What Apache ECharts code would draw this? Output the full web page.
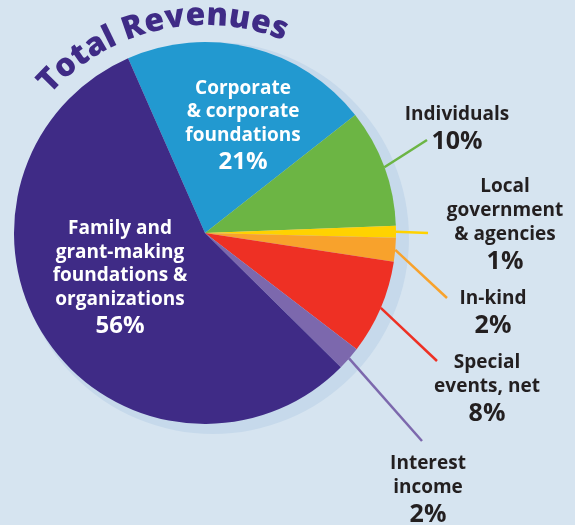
<!DOCTYPE html>
<html><head><meta charset="utf-8">
<script src="https://cdn.jsdelivr.net/npm/echarts@6/dist/echarts.min.js"></script>
<style>html,body{margin:0;padding:0;background:#d6e4f0}#c{width:575px;height:525px}</style>
</head><body><div id="c"></div>
<script>
const categories = ['Corporate\n& corporate\nfoundations','Individuals','Local\ngovernment\n& agencies','In-kind','Special\nevents, net','Interest\nincome','Family and\ngrant-making\nfoundations &\norganizations'];
const values = [21, 10, 1, 2, 8, 2, 56];
const colors = ['#2299d0','#6cb544','#ffd200','#f8a22c','#ee3024','#7c68ad','#3f2b86'];
const insideLabels = [true, false, false, false, false, false, true];
const titleText = 'Total Revenues';

// layout (label centres and leader-line ends), not data
const labelPos = [[243,127],[457,130],[505,226],[493,314],[487,390],[428,491],[120,279]];
const lineEnds = [null,[427,140],[428,233],[447,298],[437,361],[422,441],null];

const FONT = '"Open Sans", "DejaVu Sans", sans-serif';
const dark = '#231f20';
const CX = 205, CY = 233, R = 191;

// Curved title
const ctx = document.createElement('canvas').getContext('2d');
const TFS = 32;
ctx.font = '800 ' + TFS + 'px "Open Sans"';
const chars = titleText.split('');
const widths = chars.map(c => ctx.measureText(c).width);
let acc = 0; const centres = [];
widths.forEach(w => { centres.push(acc + w / 2); acc += w; });
const th0 = -45.5, th1 = 20.0, TR = 217;
const s0 = centres[0], s1 = centres[centres.length - 1];
const titleEls = chars.map((c, i) => {
  const th = (th0 + (th1 - th0) * (centres[i] - s0) / (s1 - s0)) * Math.PI / 180;
  return {
    type: 'text', silent: true, z: 10,
    x: CX + TR * Math.sin(th), y: CY - TR * Math.cos(th), rotation: -th,
    style: { text: c, fontSize: TFS, fontWeight: 800, fontFamily: FONT, fill: '#3f2b86',
      align: 'center', verticalAlign: 'middle', textAlign: 'center', textVerticalAlign: 'middle' }
  };
});

const data = categories.map((name, i) => ({
  name, value: values[i],
  itemStyle: { color: colors[i] },
  label: { position: insideLabels[i] ? 'inside' : 'outside' },
  labelLine: { show: !insideLabels[i] }
}));

const chart = echarts.init(document.getElementById('c'), null, { renderer: 'canvas' });
chart.setOption({
  backgroundColor: '#d6e4f0',
  animation: false,
  graphic: titleEls,
  series: [
    {
      type: 'pie', silent: true, z: 1, center: [213, 238], radius: 196,
      data: [{ value: 1, name: '' }],
      itemStyle: { color: '#c6d9eb' }, label: { show: false }, labelLine: { show: false }
    },
    {
      type: 'pie', z: 2, center: [CX, CY], radius: R,
      startAngle: 113.75, clockwise: true, avoidLabelOverlap: false,
      itemStyle: { borderWidth: 0 },
      label: {
        show: true,
        formatter: p => {
          const inside = insideLabels[p.dataIndex];
          const k = inside ? 'w' : 'n', kp = inside ? 'wp' : 'p';
          return p.name.split('\n').map(s => '{' + k + '|' + s + '}').join('\n') + '\n{' + kp + '|' + p.value + '%}';
        },
        rich: {
          n: { fontFamily: FONT, fontWeight: 'bold', fontSize: 19, color: dark, lineHeight: 24, align: 'center' },
          p: { fontFamily: FONT, fontWeight: 'bold', fontSize: 25, color: dark, lineHeight: 31, align: 'center' },
          w: { fontFamily: FONT, fontWeight: 'bold', fontSize: 19, color: '#ffffff', lineHeight: 23.5, align: 'center' },
          wp: { fontFamily: FONT, fontWeight: 'bold', fontSize: 24, color: '#ffffff', lineHeight: 30, align: 'center' }
        }
      },
      labelLine: { show: true, length: 10, length2: 0, lineStyle: { width: 2.5 } },
      labelLayout: params => {
        const i = params.dataIndex;
        const out = { x: labelPos[i][0], y: labelPos[i][1], align: 'center', verticalAlign: 'middle' };
        if (lineEnds[i] && params.labelLinePoints) {
          const p0 = params.labelLinePoints[0];
          out.labelLinePoints = [[p0[0], p0[1]], lineEnds[i].slice(), lineEnds[i].slice()];
        }
        return out;
      },
      data
    }
  ]
});
</script>
</body></html>
